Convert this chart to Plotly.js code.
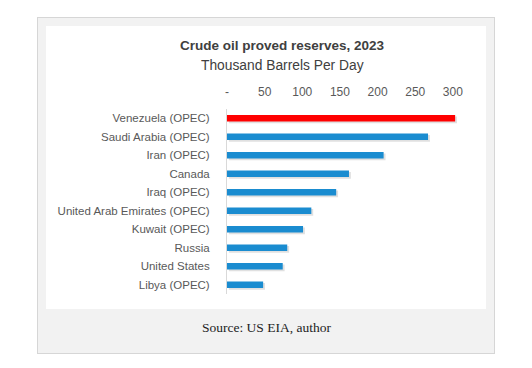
<!DOCTYPE html>
<html>
<head>
<meta charset="utf-8">
<script src="https://cdn.plot.ly/plotly-3.0.1.min.js"></script>
<style>
  html, body { margin: 0; padding: 0; background: #ffffff; width: 532px; height: 368px; overflow: hidden; }
  #outer { position: absolute; left: 37px; top: 17px; width: 456px; height: 335px; background: #f2f2f2; border: 1px solid #d6d6d6; }
  #inner { position: absolute; left: 46px; top: 26px; width: 440px; height: 283px; background: #ffffff; }
  #chart { position: absolute; left: 0; top: 0; width: 532px; height: 368px; }
</style>
</head>
<body>
<div id="outer"></div>
<div id="inner"></div>
<div id="chart"></div>
<script>
const countries = ["Venezuela (OPEC)", "Saudi Arabia (OPEC)", "Iran (OPEC)", "Canada", "Iraq (OPEC)",
                   "United Arab Emirates (OPEC)", "Kuwait (OPEC)", "Russia", "United States", "Libya (OPEC)"];
const reserves = [303, 267, 208, 162, 145, 112, 101, 80, 74, 48];
const barColors = ["#ff0000", "#1a8cd0", "#1a8cd0", "#1a8cd0", "#1a8cd0", "#1a8cd0", "#1a8cd0", "#1a8cd0", "#1a8cd0", "#1a8cd0"];
const tickValues = [0, 50, 100, 150, 200, 250, 300];
const tickLabels = ["-", "50", "100", "150", "200", "250", "300"];

const shadow = {
  type: "bar",
  orientation: "h",
  y: countries,
  x: reserves,
  base: 2.5,
  width: 0.36,
  offset: -0.09,
  marker: { color: "rgba(60,60,60,0.16)" },
  hoverinfo: "skip"
};

const trace = {
  type: "bar",
  orientation: "h",
  y: countries,
  x: reserves,
  width: 0.36,
  offset: -0.18,
  marker: { color: barColors },
  hoverinfo: "x+y"
};

function px(xp) { return (xp - 227) / (532 - 227 - 49); }
function py(yp) { return (368 - 74 - yp) / (368 - 109 - 74); }

const layout = {
  width: 532, height: 368,
  margin: { l: 227, r: 49, t: 109, b: 74, pad: 0 },
  paper_bgcolor: "rgba(0,0,0,0)",
  plot_bgcolor: "rgba(0,0,0,0)",
  showlegend: false,
  barmode: "overlay",
  font: { family: "Liberation Sans, Arial, sans-serif", color: "#595959", size: 11 },
  xaxis: {
    side: "top",
    range: [0, 340],
    tickvals: tickValues,
    ticktext: tickLabels,
    showgrid: false,
    zeroline: false,
    showline: false,
    ticks: "",
    ticklabelstandoff: 10,
    tickfont: { size: 12, color: "#595959" }
  },
  yaxis: {
    autorange: "reversed",
    showgrid: false,
    zeroline: false,
    showline: true,
    linecolor: "#d9d9d9",
    linewidth: 1,
    ticks: "",
    ticklabelstandoff: 14,
    tickfont: { size: 11.5, color: "#595959" }
  },
  annotations: [
    { text: "<b>Crude oil proved reserves, 2023</b>", xref: "paper", yref: "paper",
      x: px(282), y: py(45), xanchor: "center", yanchor: "middle", showarrow: false,
      font: { size: 13.5, color: "#404040", family: "Liberation Sans, Arial, sans-serif" } },
    { text: "Thousand Barrels Per Day", xref: "paper", yref: "paper",
      x: px(282), y: py(65), xanchor: "center", yanchor: "middle", showarrow: false,
      font: { size: 13.8, color: "#404040", family: "Liberation Sans, Arial, sans-serif" } },
    { text: "Source: US EIA, author", xref: "paper", yref: "paper",
      x: px(266), y: py(327), xanchor: "center", yanchor: "middle", showarrow: false,
      font: { size: 13.5, color: "#222222", family: "Liberation Serif, DejaVu Serif, serif" } }
  ]
};

Plotly.newPlot("chart", [shadow, trace], layout, { displayModeBar: false, staticPlot: true });
</script>
</body>
</html>
